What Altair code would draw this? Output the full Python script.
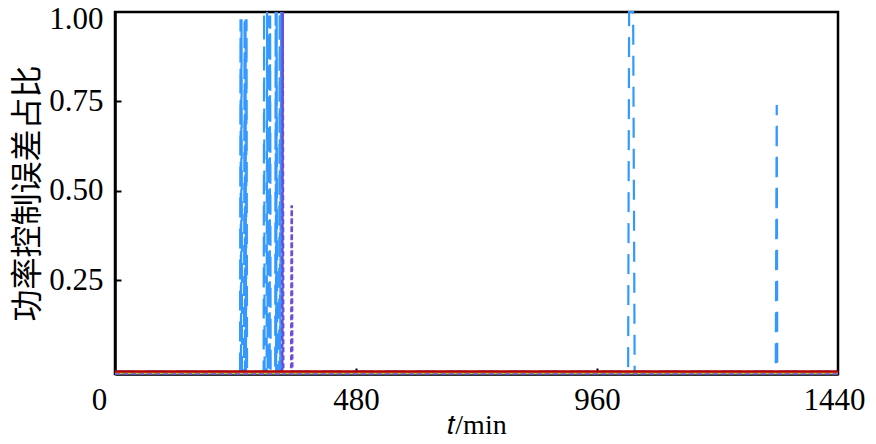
import altair as alt
import pandas as pd

# ---- data ----
x_ticks = [0, 480, 960, 1440]
y_ticks = [0.25, 0.50, 0.75, 1.00]

blue_t = [0, 249, 250, 251, 252, 253, 257, 258, 259, 260, 261, 262, 263,
          296, 297, 298, 302, 303, 304, 306, 307, 308, 309, 310,
          319, 320, 321, 322, 323, 327, 328, 329, 331, 332,
          1022, 1024, 1032, 1035, 1316, 1318, 1319, 1440]
blue_v = [-0.005, -0.005, 0.98, -0.005, 0.98, -0.005, -0.005, 0.98, -0.005, 0.98, -0.005, 0.98, -0.005,
          -0.005, 1.0, -0.005, -0.005, 1.0, -0.005, -0.005, 0.99, -0.005, 0.99, -0.005,
          -0.005, 1.0, -0.005, 1.0, -0.005, -0.005, 1.0, -0.005, 1.0, -0.005,
          -0.005, 1.0, 1.0, -0.005, -0.005, 0.74, -0.005, -0.005]

purple_t = [0, 333, 334, 335, 351, 352, 353, 1440]
purple_v = [-0.011, -0.011, 1.0, -0.011, -0.011, 0.46, -0.011, -0.011]

green_t = [0, 1440]
green_v = [-0.011, -0.011]

yellow_t = [0, 1440]
yellow_v = [-0.008, -0.008]

red_t = [0, 1440]
red_v = [-0.005, -0.005]


def frame(ts, vs, name):
    return pd.DataFrame({"t": ts, "v": vs, "s": name, "i": list(range(len(ts)))})


df_blue = frame(blue_t, blue_v, "blue")
df_purple = frame(purple_t, purple_v, "purple")
df_green = frame(green_t, green_v, "green")
df_yellow = frame(yellow_t, yellow_v, "yellow")
df_red = frame(red_t, red_v, "red")

xs = alt.Scale(domain=[0, 1440], nice=False, zero=False)
ys = alt.Scale(domain=[-0.012, 1.0], nice=False, zero=False)

LABEL_FONT = "Liberation Serif"

x_main = alt.Axis(
    values=x_ticks, format="d", ticks=False, grid=False, domain=True, domainColor="black",
    domainWidth=2.5, labelFont=LABEL_FONT, labelFontSize=31, labelColor="black",
    labelPadding=11, labelFlush=False,
    labelOffset={"condition": [{"test": "datum.value === 0", "value": -16},
                               {"test": "datum.value === 1440", "value": -4}],
                 "value": 0},
    title="𝑡/min", titleFont=LABEL_FONT, titleFontSize=28, titleFontWeight="normal",
    titleColor="black", titlePadding=-4,
)
y_main = alt.Axis(
    values=y_ticks, format=".2f", ticks=False, grid=False, domain=True,
    domainColor="black", domainWidth=2.5, labelFont=LABEL_FONT, labelFontSize=31,
    labelColor="black", labelPadding=12, labelFlush=False,
    labelOffset={"condition": {"test": "datum.value === 1", "value": 7}, "value": 0},
    title="功率控制误差占比", titleFont="Noto Sans CJK SC", titleFontSize=32,
    titleFontWeight="normal", titleColor="black", titlePadding=4,
)
x_ticks_axis = alt.Axis(
    orient="bottom", values=[480, 960], labels=False, domain=False, grid=False,
    ticks=True, tickSize=6, tickWidth=2, tickColor="black", offset=-6, title=None,
)
y_ticks_axis = alt.Axis(
    orient="left", values=[0.25, 0.5, 0.75], labels=False, domain=False, grid=False,
    ticks=True, tickSize=6, tickWidth=2, tickColor="black", offset=-6, title=None,
)

blue = alt.Chart(df_blue).mark_line(
    color="#3399ff", strokeWidth=2.2, strokeDash=[20, 11]
).encode(
    x=alt.X("t:Q", scale=xs, axis=x_main),
    y=alt.Y("v:Q", scale=ys, axis=y_main),
    order="i:Q",
)

green = alt.Chart(df_green).mark_line(color="#8fd14f", strokeWidth=1.5).encode(
    x=alt.X("t:Q", scale=xs, axis=x_ticks_axis),
    y=alt.Y("v:Q", scale=ys, axis=y_ticks_axis),
    order="i:Q",
)

purple = alt.Chart(df_purple).mark_line(
    color="#6b4fd8", strokeWidth=2.6, strokeDash=[5, 3]
).encode(
    x=alt.X("t:Q", scale=xs, axis=None),
    y=alt.Y("v:Q", scale=ys, axis=None),
    order="i:Q",
)

yellow = alt.Chart(df_yellow).mark_line(color="#e6c35a", strokeWidth=1.2).encode(
    x=alt.X("t:Q", scale=xs, axis=None),
    y=alt.Y("v:Q", scale=ys, axis=None),
    order="i:Q",
)

red = alt.Chart(df_red).mark_line(color="#b40000", strokeWidth=2.5).encode(
    x=alt.X("t:Q", scale=xs, axis=None),
    y=alt.Y("v:Q", scale=ys, axis=None),
    order="i:Q",
)

chart = alt.layer(blue, green, purple, yellow, red).resolve_axis(
    x="independent", y="independent"
).properties(
    width=723,
    height=362,
    autosize=alt.AutoSizeParams(type="none"),
    padding={"left": 107, "top": 4, "right": 30, "bottom": 62},
    background="white",
).configure_view(stroke="black", strokeWidth=2.5)

chart.save("out.html", embed_options={"renderer": "svg", "actions": False})
